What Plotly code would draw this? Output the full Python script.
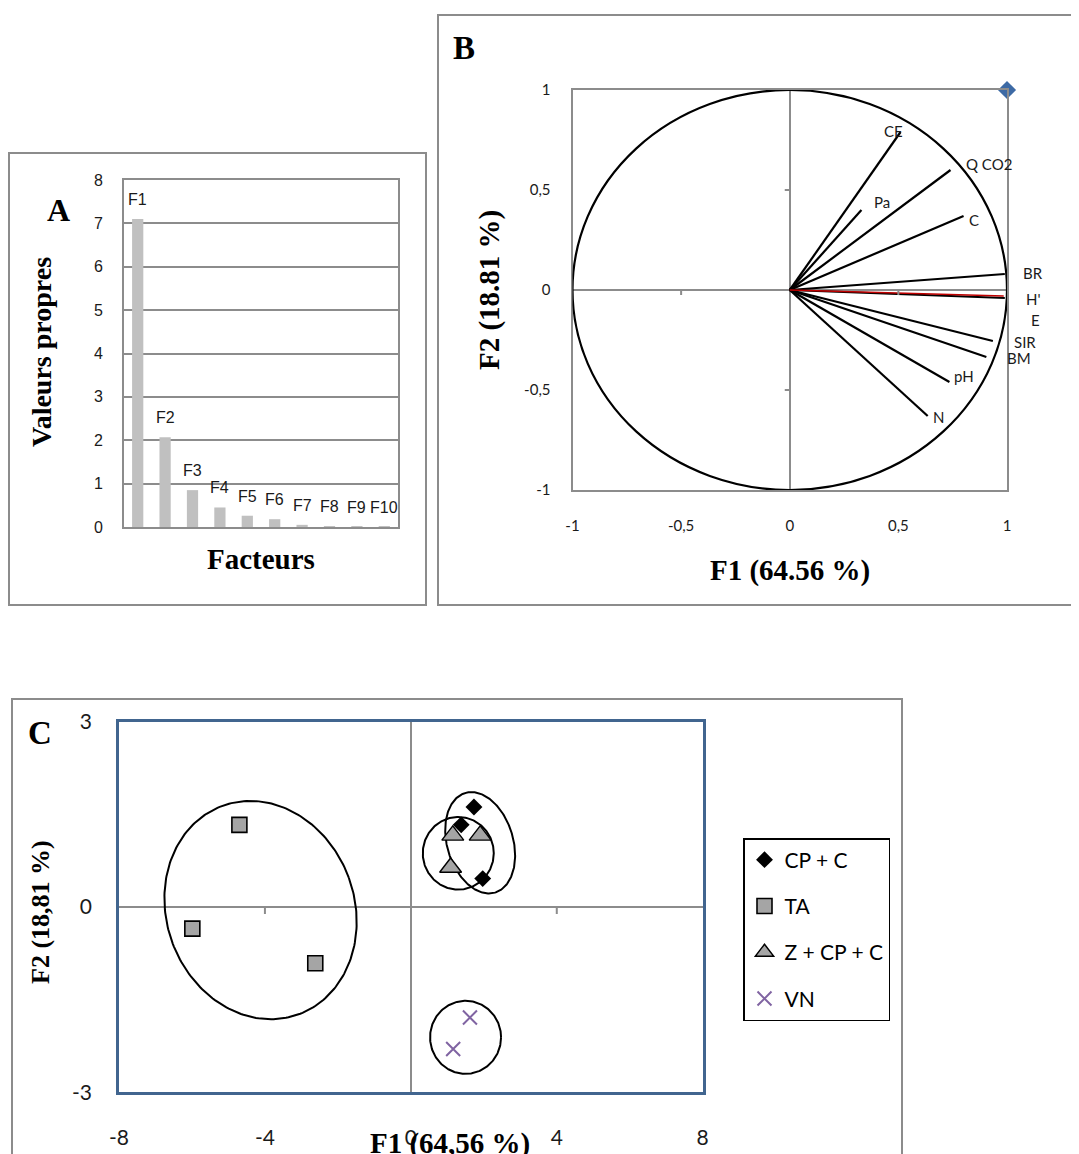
import numpy as np
import plotly.graph_objects as go

# page has an 8px body margin: the figure is placed at (8, 8) in the window
OFF = 8
W, H = 1079, 1154          # figure size (its last 8 px fall outside the window)

# ---------------- data ----------------
# Panel A : eigenvalues (scree plot)
factors = ["F1", "F2", "F3", "F4", "F5", "F6", "F7", "F8", "F9", "F10"]
eigenvalues = [7.10, 2.07, 0.85, 0.45, 0.26, 0.18, 0.05, 0.02, 0.01, 0.005]

# Panel B : correlation circle (variables)
variables = ["CE", "Pa", "Q CO2", "C", "BR", "H'", "E", "SIR", "BM", "pH", "N"]
var_f1 = [0.51, 0.33, 0.74, 0.80, 0.99, 0.99, 0.985, 0.935, 0.905, 0.735, 0.635]
var_f2 = [0.79, 0.40, 0.60, 0.37, 0.08, -0.04, -0.03, -0.255, -0.335, -0.46, -0.63]
corner_f1 = [1.0]
corner_f2 = [1.0]

# Panel C : individuals
cpc_f1 = [1.73, 1.38, 1.97]
cpc_f2 = [1.62, 1.33, 0.46]
ta_f1 = [-4.70, -5.99, -2.62]
ta_f2 = [1.33, -0.35, -0.91]
zcpc_f1 = [1.15, 1.90, 1.09]
zcpc_f2 = [1.16, 1.16, 0.64]
vn_f1 = [1.62, 1.16]
vn_f2 = [-1.79, -2.30]

# group ellipses: centre (F1, F2)
ell_centres_f1 = [-4.12, 1.90, 1.30, 1.50]
ell_centres_f2 = [-0.05, 1.04, 0.87, -2.11]

# tick labels
a_ticks = [0, 1, 2, 3, 4, 5, 6, 7, 8]
b_ticks = [-1, -0.5, 0, 0.5, 1]
b_ticktext = ["-1", "-0,5", "0", "0,5", "1"]
c_xticks = [-8, -4, 0, 4, 8]
c_xticktext = ["-8", "-4", "0", "4", "8"]
c_yticks = [-3, 0, 3]
c_yticktext = ["-3", "0", "3"]

# ---------------- layout helpers ----------------
def px(x):
    return (x - OFF) / W


def py(y):
    return 1 - (y - OFF) / H


# plot-area pixel boxes (window pixels)
A_box = (124, 398, 180, 527)
B_box = (572.5, 1007, 90, 490)
C_box = (119, 702.7, 721.7, 1092.3)

GRAY = "#8c8c8c"
SANS = "Liberation Sans"
CAL = "Lato"
SERIF = "Liberation Serif"

fig = go.Figure()

# ---------------- Panel A ----------------
fig.add_trace(go.Bar(
    x=factors, y=eigenvalues, width=0.41,
    marker=dict(color="#c0c0c0", line=dict(width=0)),
    xaxis="x", yaxis="y", showlegend=False, hoverinfo="x+y",
))

# ---------------- Panel B ----------------
black_idx = [i for i, v in enumerate(variables) if v != "E"]
lx, ly = [], []
for i in black_idx:
    lx += [0, var_f1[i], None]
    ly += [0, var_f2[i], None]
fig.add_trace(go.Scatter(
    x=lx, y=ly, mode="lines", line=dict(color="black", width=2.2),
    xaxis="x2", yaxis="y2", showlegend=False, hoverinfo="skip",
))
ie = variables.index("E")
fig.add_trace(go.Scatter(
    x=[0, var_f1[ie]], y=[0, var_f2[ie]], mode="lines",
    line=dict(color="#c00000", width=1.3),
    xaxis="x2", yaxis="y2", showlegend=False, hoverinfo="skip",
))
fig.add_trace(go.Scatter(
    x=corner_f1, y=corner_f2, mode="markers",
    marker=dict(symbol="diamond", size=14, color="#3d6aa5"),
    xaxis="x2", yaxis="y2", showlegend=False, cliponaxis=False,
))

# ---------------- Panel C ----------------
sx_C = (C_box[1] - C_box[0]) / 16.0
sy_C = (C_box[3] - C_box[2]) / 6.0
ell_style = [  # semi-axes in px (a: horizontal, b: vertical), tilt (deg)
    (94, 111, -20),
    (33, 52, -16.7),
    (35.5, 36.3, 0),
    (35.5, 36.5, 0),
]
t = np.linspace(0, 2 * np.pi, 240)
for cx, cy, (a, b, th) in zip(ell_centres_f1, ell_centres_f2, ell_style):
    r = np.deg2rad(th)
    dX = a * np.cos(t) * np.cos(r) - b * np.sin(t) * np.sin(r)
    dY = a * np.cos(t) * np.sin(r) + b * np.sin(t) * np.cos(r)
    fig.add_trace(go.Scatter(
        x=cx + dX / sx_C, y=cy - dY / sy_C, mode="lines",
        line=dict(color="black", width=2), xaxis="x3", yaxis="y3",
        showlegend=False, hoverinfo="skip",
    ))

fig.add_trace(go.Scatter(
    x=cpc_f1, y=cpc_f2, mode="markers", name="CP + C", legendgroup="g1",
    marker=dict(symbol="diamond", size=13, color="black"),
    xaxis="x3", yaxis="y3",
))
fig.add_trace(go.Scatter(
    x=ta_f1, y=ta_f2, mode="markers", name="TA", legendgroup="g2",
    marker=dict(symbol="square", size=15, color="#a5a5a5",
                line=dict(color="black", width=1.6)),
    xaxis="x3", yaxis="y3",
))
fig.add_trace(go.Scatter(
    x=zcpc_f1, y=zcpc_f2, mode="markers", name="Z + CP + C", legendgroup="g3",
    marker=dict(symbol="triangle-up", size=19, color="#a5a5a5",
                line=dict(color="black", width=1.4)),
    xaxis="x3", yaxis="y3",
))
fig.add_trace(go.Scatter(
    x=vn_f1, y=vn_f2, mode="markers", name="VN", legendgroup="g4",
    marker=dict(symbol="x-thin", size=14, color="#8064a2",
                line=dict(color="#8064a2", width=2)),
    xaxis="x3", yaxis="y3",
))

# ---------------- axes ----------------
def dom(box):
    return [px(box[0]), px(box[1])], [py(box[3]), py(box[2])]


ax_dx, ax_dy = dom(A_box)
bx_dx, bx_dy = dom(B_box)
cx_dx, cx_dy = dom(C_box)

common = dict(automargin=False, ticks="", showgrid=False, showline=True, mirror=True)

fig.update_layout(
    width=W, height=H, margin=dict(l=0, r=0, t=0, b=0, autoexpand=False),
    paper_bgcolor="white", plot_bgcolor="white",
    xaxis=dict(common, domain=ax_dx, anchor="y", type="category", range=[-0.5, 9.5],
               showticklabels=False, zeroline=False, linecolor=GRAY, linewidth=2),
    yaxis=dict(common, domain=ax_dy, anchor="x", range=[0, 8],
               tickvals=a_ticks, ticktext=[str(v) for v in a_ticks],
               showgrid=True, gridcolor=GRAY, gridwidth=1.5, zeroline=False,
               linecolor=GRAY, linewidth=2,
               tickfont=dict(family=SANS, size=16, color="#1a1a1a"),
               ticklabelstandoff=16),
    xaxis2=dict(common, domain=bx_dx, anchor="y2", range=[-1, 1],
                tickvals=b_ticks, ticktext=b_ticktext,
                zeroline=True, zerolinecolor=GRAY, zerolinewidth=2,
                linecolor=GRAY, linewidth=2,
                tickfont=dict(family=CAL, size=15, color="#1a1a1a"),
                ticklabelstandoff=21),
    yaxis2=dict(common, domain=bx_dy, anchor="x2", range=[-1, 1],
                tickvals=b_ticks, ticktext=b_ticktext,
                zeroline=True, zerolinecolor=GRAY, zerolinewidth=2,
                linecolor=GRAY, linewidth=2,
                tickfont=dict(family=CAL, size=15, color="#1a1a1a"),
                ticklabelstandoff=17),
    xaxis3=dict(common, domain=cx_dx, anchor="y3", range=[-8, 8],
                tickvals=c_xticks, ticktext=c_xticktext,
                zeroline=True, zerolinecolor=GRAY, zerolinewidth=2,
                linecolor="#41658f", linewidth=2.5,
                tickfont=dict(family=CAL, size=21, color="#1a1a1a"),
                ticklabelstandoff=25),
    yaxis3=dict(common, domain=cx_dy, anchor="x3", range=[-3, 3],
                tickvals=c_yticks, ticktext=c_yticktext,
                zeroline=True, zerolinecolor=GRAY, zerolinewidth=2,
                linecolor="#41658f", linewidth=2.5,
                tickfont=dict(family=CAL, size=21, color="#1a1a1a"),
                ticklabelstandoff=20),
    legend=dict(x=px(743), y=py(838), xanchor="left", yanchor="top",
                bgcolor="white", bordercolor="black", borderwidth=1.5,
                font=dict(family=CAL, size=21, color="black"),
                tracegroupgap=16, itemsizing="trace"),
)

# ---------------- shapes ----------------
shapes = []
frame = dict(type="rect", xref="paper", yref="paper",
             line=dict(color=GRAY, width=2), fillcolor="rgba(0,0,0,0)", layer="below")
shapes.append(dict(frame, x0=px(9), x1=px(426), y0=py(605), y1=py(153)))
shapes.append(dict(frame, x0=px(438), x1=px(1100), y0=py(605), y1=py(15)))
shapes.append(dict(frame, x0=px(12), x1=px(902), y0=py(1175), y1=py(699)))

# correlation circle
shapes.append(dict(type="circle", xref="x2", yref="y2", x0=-1, x1=1, y0=-1, y1=1,
                   line=dict(color="black", width=2.2)))
# ticks on the zero lines (Excel style)
for v in [-0.5, 0.5]:
    shapes.append(dict(type="line", xref="x2", yref="y2", ysizemode="pixel",
                       yanchor=0, x0=v, x1=v, y0=0, y1=-5,
                       line=dict(color=GRAY, width=2)))
    shapes.append(dict(type="line", xref="x2", yref="y2", xsizemode="pixel",
                       xanchor=0, y0=v, y1=v, x0=-5, x1=0,
                       line=dict(color=GRAY, width=2)))
for v in [-4, 4]:
    shapes.append(dict(type="line", xref="x3", yref="y3", ysizemode="pixel",
                       yanchor=0, x0=v, x1=v, y0=0, y1=-7,
                       line=dict(color=GRAY, width=2)))
fig.update_layout(shapes=shapes)

# ---------------- annotations ----------------
ann = []
# bar labels
for f, v in zip(factors, eigenvalues):
    ann.append(dict(x=f, y=v, xref="x", yref="y", text=f, showarrow=False,
                    yanchor="bottom", yshift=9,
                    font=dict(family=SANS, size=16, color="#1a1a1a")))

# variable labels (pixel offsets from the arrow tip)
label_shift = {"CE": (-7, 1), "Pa": (21, 8), "Q CO2": (38, 6), "C": (10, -4),
               "BR": (28, 1), "H'": (29, -1), "E": (32, -24), "SIR": (32, -1),
               "BM": (33, -1), "pH": (15, 6), "N": (11, -1)}
for name, a, b in zip(variables, var_f1, var_f2):
    dx, dy = label_shift[name]
    ann.append(dict(x=a, y=b, xref="x2", yref="y2", text=name, showarrow=False,
                    xshift=dx, yshift=dy,
                    font=dict(family=CAL, size=15, color="#1a1a1a")))


def title(x, y, text, size, angle=0):
    return dict(x=px(x), y=py(y), xref="paper", yref="paper", text="<b>%s</b>" % text,
                showarrow=False, textangle=angle, xanchor="center", yanchor="middle",
                font=dict(family=SERIF, size=size, color="black"))


ann += [
    title(58, 210, "A", 32),
    title(42, 352, "Valeurs propres", 28, -90),
    title(261, 559, "Facteurs", 29),
    title(464, 48, "B", 33),
    title(790, 570, "F1 (64.56 %)", 29),
    title(490, 290, "F2 (18.81 %)", 29, -90),
    title(40, 733, "C", 33),
    title(450, 1143, "F1 (64,56 %)", 29),
    title(40, 912, "F2 (18,81 %)", 26, -90),
]
fig.update_layout(annotations=ann)

fig.write_html("out.html")
